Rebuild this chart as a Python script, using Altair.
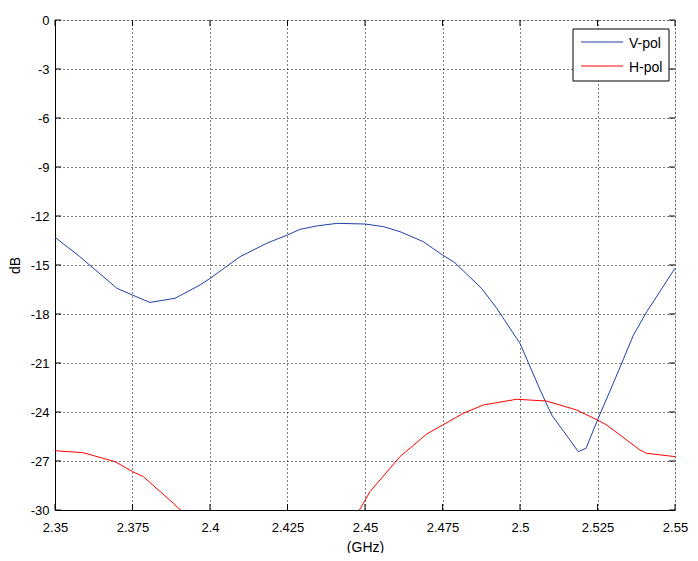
import altair as alt
import pandas as pd

# ---- data ----
v_freq = [2.35, 2.358, 2.370, 2.375, 2.3806, 2.3887, 2.3968, 2.40, 2.4097, 2.4183,
          2.425, 2.429, 2.4344, 2.441, 2.45, 2.4559, 2.4613, 2.4688, 2.475, 2.479,
          2.4876, 2.4925, 2.4989, 2.50, 2.5065, 2.5102, 2.5161, 2.5188, 2.5213, 2.525,
          2.5301, 2.5366, 2.5409, 2.55]
v_db = [-13.3, -14.49, -16.43, -16.84, -17.29, -17.04, -16.22, -15.82, -14.49, -13.67,
        -13.16, -12.82, -12.61, -12.45, -12.49, -12.65, -12.96, -13.57, -14.39, -14.86,
        -16.43, -17.65, -19.49, -19.8, -22.65, -24.18, -25.71, -26.43, -26.22, -24.49,
        -22.24, -19.29, -17.86, -15.2]

h_freq = [2.35, 2.359, 2.3694, 2.375, 2.3785, 2.3882, 2.395, 2.405, 2.415, 2.425,
          2.435, 2.442, 2.4482, 2.4516, 2.4613, 2.4699, 2.475, 2.4817, 2.4882, 2.4989,
          2.5086, 2.5183, 2.525, 2.528, 2.5387, 2.5409, 2.55]
h_db = [-26.37, -26.49, -27.04, -27.65, -27.96, -29.59, -30.8, -32.5, -34.3, -35.5,
        -35.0, -32.8, -30.0, -28.88, -26.73, -25.35, -24.8, -24.08, -23.57, -23.22,
        -23.33, -23.88, -24.49, -24.8, -26.33, -26.53, -26.73]

series = ["V-pol", "H-pol"]
colors = ["#2040A8", "#FF0000"]
x_ticks = [2.35, 2.375, 2.4, 2.425, 2.45, 2.475, 2.5, 2.525, 2.55]
y_ticks = [0, -3, -6, -9, -12, -15, -18, -21, -24, -27, -30]

df = pd.concat([
    pd.DataFrame({"f": v_freq, "db": v_db, "s": series[0]}),
    pd.DataFrame({"f": h_freq, "db": h_db, "s": series[1]}),
])
xt = pd.DataFrame({"t": x_ticks})
yt = pd.DataFrame({"t": y_ticks})

W, H = 620, 490
FONT = "Liberation Sans"
xs = alt.Scale(domain=[2.35, 2.55], nice=False, zero=False)
ys = alt.Scale(domain=[-30, 0], nice=False, zero=False)

x_axis = alt.Axis(
    values=x_ticks, title="(GHz)", labelExpr="'' + datum.value",
    grid=True, gridDash=[1, 3], gridColor="black", gridOpacity=1,
    ticks=False, labelPadding=11, labelFlush=False, labelOverlap=False,
    domainColor="black",
    labelFont=FONT, labelFontSize=13, labelColor="black",
    titleFont=FONT, titleFontSize=14, titleFontWeight="normal", titleColor="black",
    titleX=W / 2, titleY=37, titleBaseline="middle")
y_axis = alt.Axis(
    values=y_ticks, title="dB", labelExpr="'' + datum.value",
    grid=True, gridDash=[1, 3], gridColor="black", gridOpacity=1,
    ticks=False, labelPadding=6, labelFlush=False, labelOverlap=False,
    domainColor="black",
    labelFont=FONT, labelFontSize=13, labelColor="black",
    titleFont=FONT, titleFontSize=14, titleFontWeight="normal", titleColor="black",
    titleX=-40, titleY=H / 2, titleAngle=-90, titleBaseline="middle")

lines = alt.Chart(df).mark_line(clip=True, strokeWidth=1).encode(
    x=alt.X("f:Q", scale=xs, axis=x_axis),
    y=alt.Y("db:Q", scale=ys, axis=y_axis),
    color=alt.Color("s:N", scale=alt.Scale(domain=series, range=colors), legend=None),
    detail="s:N",
)

TL = 6
tick_b = alt.Chart(xt).mark_rule(color="black").encode(
    x=alt.X("t:Q", scale=xs, axis=x_axis), y=alt.value(H - TL), y2=alt.value(H))
tick_t = alt.Chart(xt).mark_rule(color="black").encode(
    x=alt.X("t:Q", scale=xs, axis=x_axis), y=alt.value(0), y2=alt.value(TL))
tick_l = alt.Chart(yt).mark_rule(color="black").encode(
    y=alt.Y("t:Q", scale=ys, axis=y_axis), x=alt.value(0), x2=alt.value(TL))
tick_r = alt.Chart(yt).mark_rule(color="black").encode(
    y=alt.Y("t:Q", scale=ys, axis=y_axis), x=alt.value(W - TL), x2=alt.value(W))

# legend box (one row of data per element so nothing is overdrawn)
one = pd.DataFrame({"s": ["legend"]})
leg_box = alt.Chart(one).mark_rect(fill="white", stroke="black", strokeWidth=1).encode(
    x=alt.value(518), x2=alt.value(614), y=alt.value(9), y2=alt.value(61))
leg_items = []
for name, col, yy in zip(series, colors, [22, 46]):
    item = pd.DataFrame({"s": [name]})
    leg_items.append(alt.Chart(item).mark_rule(color=col, strokeWidth=1).encode(
        x=alt.value(526), x2=alt.value(568), y=alt.value(yy)))
    leg_items.append(alt.Chart(item).mark_text(
        align="left", baseline="middle", font=FONT, fontSize=14, fontWeight="normal",
        color="black").encode(
        x=alt.value(574), y=alt.value(yy + 2), text=alt.Text("s:N")))

chart = alt.layer(lines, tick_b, tick_t, tick_l, tick_r, leg_box, *leg_items).properties(
    width=W, height=H,
    padding={"left": 47, "top": 12, "right": 15, "bottom": 43},
    autosize=alt.AutoSizeParams(type="none"),
).configure_view(stroke="black", strokeWidth=1).configure(background="white")

chart.save("out.html", embed_options={"renderer": "svg", "actions": False})
